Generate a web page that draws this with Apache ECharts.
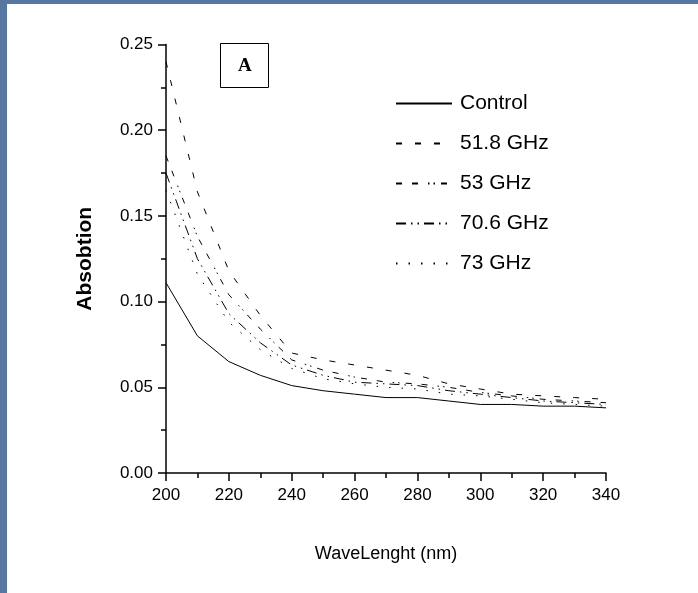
<!DOCTYPE html>
<html>
<head>
<meta charset="utf-8">
<script src="https://cdn.jsdelivr.net/npm/echarts@6/dist/echarts.min.js"></script>
<style>
html,body{margin:0;padding:0;}
body{width:698px;height:593px;background:#56779f;position:relative;overflow:hidden;}
#panel{position:absolute;left:7px;top:4px;right:0;bottom:0;background:#fff;}
#chart{position:absolute;left:0;top:0;width:698px;height:593px;}
</style>
</head>
<body>
<div id="panel"></div>
<div id="chart"></div>
<script>
const wavelengths = [200, 210, 220, 230, 240, 250, 260, 270, 280, 290, 300, 310, 320, 330, 340];
const seriesNames = ['Control', '51.8 GHz', '53 GHz', '70.6 GHz', '73 GHz'];
const control = [0.111, 0.080, 0.065, 0.057, 0.051, 0.048, 0.046, 0.044, 0.044, 0.042, 0.040, 0.040, 0.039, 0.039, 0.038];
const ghz518 = [0.240, 0.164, 0.118, 0.092, 0.070, 0.066, 0.063, 0.060, 0.057, 0.052, 0.049, 0.046, 0.045, 0.044, 0.043];
const ghz53 = [0.185, 0.138, 0.104, 0.084, 0.066, 0.060, 0.056, 0.053, 0.052, 0.050, 0.047, 0.045, 0.043, 0.042, 0.041];
const ghz706 = [0.175, 0.125, 0.093, 0.076, 0.063, 0.057, 0.053, 0.052, 0.051, 0.048, 0.046, 0.044, 0.042, 0.041, 0.040];
const ghz73 = [0.165, 0.116, 0.088, 0.072, 0.061, 0.055, 0.052, 0.050, 0.049, 0.046, 0.045, 0.043, 0.041, 0.040, 0.039];
const yTicks = ['0.00', '0.05', '0.10', '0.15', '0.20', '0.25'];
const xTitle = 'WaveLenght (nm)';
const yTitle = 'Absobtion';
const panelLabel = 'A';

const allValues = [control, ghz518, ghz53, ghz706, ghz73];
const dashes = ['solid', [6, 13], [6, 10, 6, 10, 1.5, 4, 1.5, 6], [10, 5, 1.5, 5, 1.5, 5], [1.5, 11]];

const chart = echarts.init(document.getElementById('chart'), null, {renderer: 'canvas'});
const font = 'Liberation Sans, Arial, sans-serif';

const series = seriesNames.map((name, i) => ({
  name: name,
  type: 'line',
  symbol: 'none',
  data: wavelengths.map((w, j) => [w, allValues[i][j]]),
  lineStyle: {color: '#000', width: 1, type: dashes[i]},
  itemStyle: {color: '#000'},
  animation: false
}));

chart.setOption({
  backgroundColor: 'transparent',
  animation: false,
  grid: {left: 166, right: 92, top: 44.5, bottom: 120, containLabel: false},
  legend: {
    orient: 'vertical',
    left: 395,
    top: 93,
    padding: 0,
    itemWidth: 56,
    itemHeight: 20,
    itemGap: 19,
    data: seriesNames,
    itemStyle: {opacity: 0},
    textStyle: {fontFamily: font, fontSize: 21, color: '#000', padding: [0, 0, 0, 3]},
    inactiveColor: '#000'
  },
  xAxis: {
    type: 'value',
    min: 200, max: 340, interval: 20,
    name: xTitle,
    nameLocation: 'middle',
    nameGap: 72,
    nameTextStyle: {fontFamily: font, fontSize: 18, color: '#000'},
    axisLine: {show: true, onZero: false, lineStyle: {color: '#000', width: 1.5}},
    axisTick: {show: true, inside: false, length: 8, lineStyle: {color: '#000', width: 1.5}},
    minorTick: {show: true, splitNumber: 2, length: 5, lineStyle: {color: '#000', width: 1.5}},
    axisLabel: {fontFamily: font, fontSize: 17, color: '#000', margin: 14},
    splitLine: {show: false}
  },
  yAxis: {
    type: 'value',
    min: 0, max: 0.25, interval: 0.05,
    name: yTitle,
    nameLocation: 'middle',
    nameGap: 70,
    nameRotate: 90,
    nameTextStyle: {fontFamily: 'Liberation Sans Narrow, Liberation Sans, Arial, sans-serif', fontSize: 21, fontWeight: 'bold', color: '#000'},
    axisLine: {show: true, onZero: false, lineStyle: {color: '#000', width: 1.5}},
    axisTick: {show: true, inside: false, length: 8, lineStyle: {color: '#000', width: 1.5}},
    minorTick: {show: true, splitNumber: 2, length: 5, lineStyle: {color: '#000', width: 1.5}},
    axisLabel: {fontFamily: font, fontSize: 17, color: '#000', margin: 13,
      formatter: (v) => yTicks[Math.round(v / 0.05)]},
    splitLine: {show: false}
  },
  graphic: [
    {type: 'rect', left: 220, top: 43, shape: {width: 48, height: 44},
     style: {fill: '#fff', stroke: '#000', lineWidth: 1}},
    {type: 'text', left: 238, top: 57, style: {text: panelLabel, fontFamily: 'Liberation Serif, Times New Roman, serif', fontWeight: 'bold', fontSize: 19, fill: '#000'}}
  ],
  series: series
});
</script>
</body>
</html>
